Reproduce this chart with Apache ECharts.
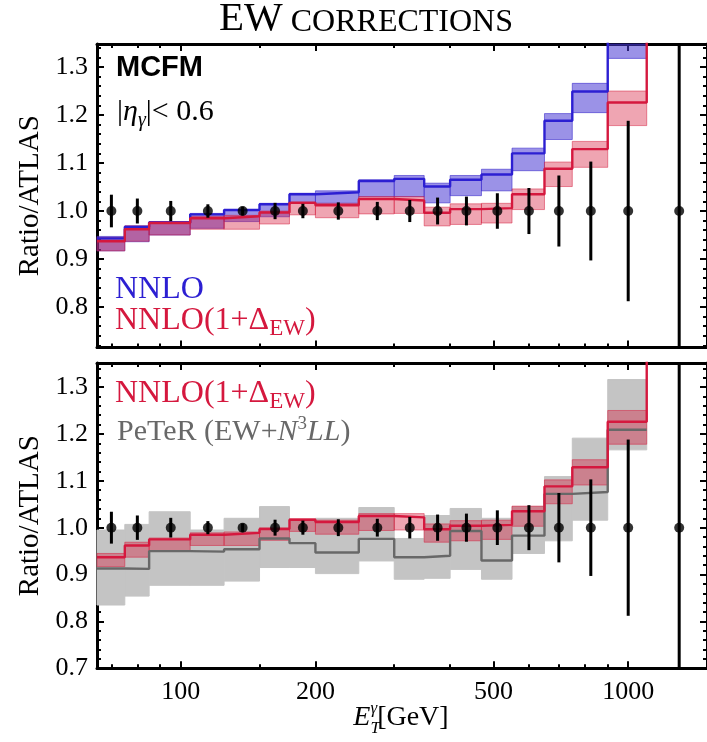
<!DOCTYPE html>
<html>
<head>
<meta charset="utf-8">
<script src="https://cdn.jsdelivr.net/npm/echarts@6/dist/echarts.min.js"></script>
<style>
  html, body { margin: 0; padding: 0; background: #fff; }
  #chart { width: 707px; height: 742px; }
</style>
</head>
<body>
<div id="chart"></div>
<script>
// Photon E_T bin edges [GeV]
const binEdges = [65, 75, 85, 105, 125, 150, 175, 200, 250, 300, 350, 400, 470, 550, 650, 750, 900, 1100, 1500];

// ATLAS measurement: bin centres, ratio to itself, relative uncertainty
const dataEt    = [70, 80, 95, 115, 137.5, 162.5, 187.5, 225, 275, 325, 375, 435, 510, 600, 700, 825, 1000, 1300];
const dataRatio = [1, 1, 1, 1, 1, 1, 1, 1, 1, 1, 1, 1, 1, 1, 1, 1, 1, 1];
const dataErr   = [0.034, 0.026, 0.021, 0.014, 0.009, 0.017, 0.015, 0.018, 0.019, 0.023, 0.028, 0.030, 0.037, 0.048, 0.074, 0.103, 0.188, 1.0];

// MCFM NNLO / ATLAS (central value and scale band)
const nnlo     = [0.943, 0.967, 0.976, 0.993, 1.002, 1.014, 1.035, 1.039, 1.0625, 1.067, 1.051, 1.065, 1.076, 1.120, 1.188, 1.249, 1.400, 1.600];
const nnloLo   = [0.917, 0.936, 0.950, 0.964, 0.978, 0.988, 1.016, 1.016, 1.030, 1.030, 1.017, 1.032, 1.042, 1.084, 1.149, 1.205, 1.318, 1.500];
const nnloHi   = [0.947, 0.969, 0.978, 0.995, 1.003, 1.016, 1.037, 1.042, 1.065, 1.074, 1.058, 1.074, 1.087, 1.131, 1.203, 1.266, 1.480, 1.700];

// MCFM NNLO x (1 + Delta_EW) / ATLAS
const nnloEw   = [0.937, 0.962, 0.975, 0.985, 0.989, 0.997, 1.017, 1.012, 1.025, 1.022, 0.9965, 1.004, 1.006, 1.035, 1.088, 1.129, 1.226, 1.500];
const nnloEwLo = [0.917, 0.937, 0.950, 0.962, 0.962, 0.973, 0.992, 0.986, 0.994, 0.995, 0.969, 0.972, 0.975, 1.003, 1.051, 1.091, 1.178, 1.450];
const nnloEwHi = [0.945, 0.969, 0.978, 0.989, 0.991, 1.000, 1.019, 1.016, 1.030, 1.030, 1.008, 1.015, 1.016, 1.046, 1.102, 1.145, 1.250, 1.550];

// PeTeR (EW + N3LL) / ATLAS
const peter    = [0.913, 0.912, 0.950, 0.949, 0.954, 0.977, 0.967, 0.947, 0.976, 0.937, 0.940, 0.993, 0.930, 0.983, 1.072, 1.076, 1.209];
const peterLo  = [0.835, 0.854, 0.877, 0.877, 0.886, 0.915, 0.915, 0.902, 0.929, 0.890, 0.892, 0.911, 0.890, 0.945, 0.972, 1.016, 1.166];
const peterHi  = [0.995, 1.007, 1.034, 0.995, 1.020, 1.045, 1.015, 1.020, 1.043, 0.977, 1.026, 1.041, 1.020, 1.045, 1.109, 1.191, 1.316];

// Axis ticks
const xMajorTicks = [100, 200, 500, 1000];
const xMinorTicks = [70, 80, 90, 150, 300, 400, 600, 700, 800, 900];
const yMajorTicks = [0.7, 0.8, 0.9, 1.0, 1.1, 1.2, 1.3];
const yMinorTicks = [];
for (let k = 35; k <= 67; k++) yMinorTicks.push(+(k * 0.02).toFixed(2));

const SERIF = '"Liberation Serif", "Times New Roman", Times, serif';
const SANS = '"Liberation Sans", Arial, Helvetica, sans-serif';
const BLUE = '#2c1fd2';
const RED = '#d5183e';
const GREY_LINE = '#686868';

const X_RANGE = [65, 1500];
const TOP_Y = [0.7156, 1.348];
const BOT_Y = [0.7, 1.3513];
const TOP_BOX = { left: 97, top: 44, width: 611.5, height: 303.5 };
const BOT_BOX = { left: 97, top: 363, width: 611.5, height: 305.3 };

// ---------- axes ----------
function xAxisDef(grid, position, ticks, len, withLine, labels) {
  return {
    type: 'log', logBase: 10, gridIndex: grid, position, min: X_RANGE[0], max: X_RANGE[1],
    axisLine: { show: withLine, onZero: false, lineStyle: { color: '#000', width: 3 } },
    axisTick: { show: true, inside: true, length: len, customValues: ticks, lineStyle: { color: '#000', width: 2 } },
    axisLabel: {
      show: !!labels, customValues: labels || ticks, margin: 11, color: '#000',
      fontFamily: SERIF, fontSize: 26, formatter: v => String(Math.round(v))
    },
    splitLine: { show: false }
  };
}
function yAxisDef(grid, position, range, ticks, len, withLine, labels, name) {
  const inRange = v => v >= range[0] - 1e-9 && v <= range[1] + 1e-9;
  return {
    type: 'value', gridIndex: grid, position, min: range[0], max: range[1],
    name: name || '', nameLocation: 'middle', nameGap: 39, nameRotate: 90,
    nameTextStyle: { fontFamily: SERIF, fontSize: 29, color: '#000' },
    axisLine: { show: withLine, onZero: false, lineStyle: { color: '#000', width: 3 } },
    axisTick: { show: true, inside: true, length: len, customValues: ticks.filter(inRange), lineStyle: { color: '#000', width: 2 } },
    axisLabel: {
      show: labels, customValues: ticks.filter(inRange), margin: 9, color: '#000',
      fontFamily: SERIF, fontSize: 26, formatter: v => v.toFixed(1)
    },
    splitLine: { show: false }
  };
}

const grids = [TOP_BOX, BOT_BOX, TOP_BOX, BOT_BOX];
const xAxes = [
  // main (major ticks + frame)
  xAxisDef(0, 'bottom', xMajorTicks, 7, true, null),
  xAxisDef(0, 'top', xMajorTicks, 7, true, null),
  xAxisDef(1, 'bottom', xMajorTicks, 7, true, xMajorTicks),
  xAxisDef(1, 'top', xMajorTicks, 7, true, null),
  // overlay (minor ticks)
  xAxisDef(2, 'bottom', xMinorTicks, 4, false, null),
  xAxisDef(2, 'top', xMinorTicks, 4, false, null),
  xAxisDef(3, 'bottom', xMinorTicks, 4, false, null),
  xAxisDef(3, 'top', xMinorTicks, 4, false, null)
];
const yAxes = [
  yAxisDef(0, 'left', TOP_Y, yMajorTicks, 7, true, true, 'Ratio/ATLAS'),
  yAxisDef(0, 'right', TOP_Y, yMajorTicks, 7, true, false),
  yAxisDef(1, 'left', BOT_Y, yMajorTicks, 7, true, true, 'Ratio/ATLAS'),
  yAxisDef(1, 'right', BOT_Y, yMajorTicks, 7, true, false),
  yAxisDef(2, 'left', TOP_Y, yMinorTicks, 4, false, false),
  yAxisDef(2, 'right', TOP_Y, yMinorTicks, 4, false, false),
  yAxisDef(3, 'left', BOT_Y, yMinorTicks, 4, false, false),
  yAxisDef(3, 'right', BOT_Y, yMinorTicks, 4, false, false)
];

// ---------- series builders ----------
function stepPoints(values) {
  const pts = values.map((v, i) => [binEdges[i], v]);
  pts.push([binEdges[values.length], values[values.length - 1]]);
  return pts;
}
function clipBox(cs) { return { x: cs.x, y: cs.y, width: cs.width, height: cs.height }; }

function bandSeries(xi, yi, lo, hi, fill, stroke, z) {
  return {
    type: 'custom', xAxisIndex: xi, yAxisIndex: yi, silent: true, z,
    data: lo.map((l, i) => [binEdges[i], binEdges[i + 1], l, hi[i]]),
    encode: { x: [0, 1], y: [2, 3] },
    renderItem(params, api) {
      const a = api.coord([api.value(0), api.value(3)]);
      const b = api.coord([api.value(1), api.value(2)]);
      const shape = echarts.graphic.clipRectByRect(
        { x: a[0], y: a[1], width: b[0] - a[0], height: b[1] - a[1] }, clipBox(params.coordSys));
      if (!shape) return null;
      return { type: 'rect', shape, style: { fill, stroke, lineWidth: 1 } };
    }
  };
}
function stepSeries(xi, yi, values, color, z) {
  return {
    type: 'line', xAxisIndex: xi, yAxisIndex: yi, silent: true, z,
    data: stepPoints(values), step: 'end', symbol: 'none', clip: true,
    lineStyle: { color, width: 2.4 }
  };
}
function errorBars(xi, yi) {
  return {
    type: 'custom', xAxisIndex: xi, yAxisIndex: yi, silent: true, z: 8,
    data: dataEt.map((x, i) => [x, dataRatio[i] - dataErr[i], dataRatio[i] + dataErr[i]]),
    encode: { x: 0, y: [1, 2] },
    renderItem(params, api) {
      const p1 = api.coord([api.value(0), api.value(1)]);
      const p2 = api.coord([api.value(0), api.value(2)]);
      const pts = echarts.graphic.clipPointsByRect([p1, p2], clipBox(params.coordSys));
      return {
        type: 'line',
        shape: { x1: pts[0][0], y1: pts[0][1], x2: pts[1][0], y2: pts[1][1] },
        style: { stroke: '#000', lineWidth: 3 }
      };
    }
  };
}
function dataPoints(xi, yi) {
  return {
    type: 'scatter', xAxisIndex: xi, yAxisIndex: yi, silent: true, z: 9,
    data: dataEt.map((x, i) => [x, dataRatio[i]]),
    symbol: 'circle', symbolSize: 10, itemStyle: { color: '#000' }
  };
}

const series = [
  // upper panel: NNLO vs NNLO(1+Delta_EW)
  bandSeries(0, 0, nnloLo, nnloHi, 'rgba(72,56,212,0.55)', 'rgba(60,45,205,0.6)', 2),
  bandSeries(0, 0, nnloEwLo, nnloEwHi, 'rgba(214,30,62,0.40)', 'rgba(214,30,62,0.5)', 3),
  stepSeries(0, 0, nnlo, BLUE, 4),
  stepSeries(0, 0, nnloEw, RED, 5),
  errorBars(0, 0),
  dataPoints(0, 0),
  // lower panel: NNLO(1+Delta_EW) vs PeTeR
  bandSeries(2, 2, peterLo, peterHi, '#c4c4c4', '#c4c4c4', 2),
  bandSeries(2, 2, nnloEwLo, nnloEwHi, 'rgba(214,30,62,0.40)', 'rgba(214,30,62,0.5)', 3),
  stepSeries(2, 2, peter, GREY_LINE, 4),
  stepSeries(2, 2, nnloEw, RED, 5),
  errorBars(2, 2),
  dataPoints(2, 2)
];

// ---------- inline text runs (sub/superscripts, mixed styles) ----------
const measureCtx = document.createElement('canvas').getContext('2d');
function textRun(x, baseline, parts, anchor) {
  const items = parts.map(p => {
    const fam = p.family || SERIF;
    const fs = p.italic ? 'italic' : 'normal';
    const fw = p.bold ? 'bold' : 'normal';
    measureCtx.font = `${fs} ${fw} ${p.size}px ${fam}`;
    return { p, fam, fs, fw, w: measureCtx.measureText(p.text).width };
  });
  let total = 0;
  items.forEach(it => { if (!it.p.stack) total += it.w; });
  let cx = anchor === 'center' ? x - total / 2 : x;
  const out = [];
  let prevX = cx;
  items.forEach(it => {
    const p = it.p;
    const px = p.stack ? prevX : cx;
    out.push({
      type: 'text', x: px, y: baseline + (p.dy || 0) - 0.34 * p.size, silent: true,
      style: {
        text: p.text, fill: p.color || '#000', fontSize: p.size, fontFamily: it.fam,
        fontStyle: it.fs, fontWeight: it.fw, align: 'left', verticalAlign: 'middle'
      }
    });
    if (!p.stack) { prevX = cx; cx += it.w; }
  });
  return out;
}

const graphics = [].concat(
  textRun(366, 33, [
    { text: 'EW', size: 41 },
    { text: ' CORRECTIONS', size: 32 }
  ], 'center'),
  textRun(116, 78, [{ text: 'MCFM', size: 29, family: SANS, bold: true }]),
  textRun(117, 122, [
    { text: '|', size: 30 },
    { text: 'η', size: 30, italic: true },
    { text: 'γ', size: 20, italic: true, dy: 6 },
    { text: '|< 0.6', size: 30 }
  ]),
  textRun(115, 300, [{ text: 'NNLO', size: 32, color: BLUE }]),
  textRun(115, 331, [
    { text: 'NNLO(1+Δ', size: 32, color: RED },
    { text: 'EW', size: 23, color: RED, dy: 6 },
    { text: ')', size: 32, color: RED }
  ]),
  textRun(115, 404, [
    { text: 'NNLO(1+Δ', size: 32, color: RED },
    { text: 'EW', size: 23, color: RED, dy: 6 },
    { text: ')', size: 32, color: RED }
  ]),
  textRun(117, 442, [
    { text: 'PeTeR (EW+', size: 30, color: GREY_LINE },
    { text: 'N', size: 30, color: GREY_LINE, italic: true },
    { text: '3', size: 19, color: GREY_LINE, dy: -12 },
    { text: 'LL', size: 30, color: GREY_LINE, italic: true },
    { text: ')', size: 30, color: GREY_LINE }
  ]),
  textRun(401, 727, [
    { text: 'E', size: 28, italic: true },
    { text: 'γ', size: 17, italic: true, dy: -13 },
    { text: 'T', size: 17, italic: true, dy: 7, stack: true },
    { text: '[GeV]', size: 28 }
  ], 'center')
);

const chart = echarts.init(document.getElementById('chart'), null, { renderer: 'canvas' });
chart.setOption({
  animation: false,
  backgroundColor: '#fff',
  grid: grids,
  xAxis: xAxes,
  yAxis: yAxes,
  series,
  graphic: { elements: graphics }
});
</script>
</body>
</html>
